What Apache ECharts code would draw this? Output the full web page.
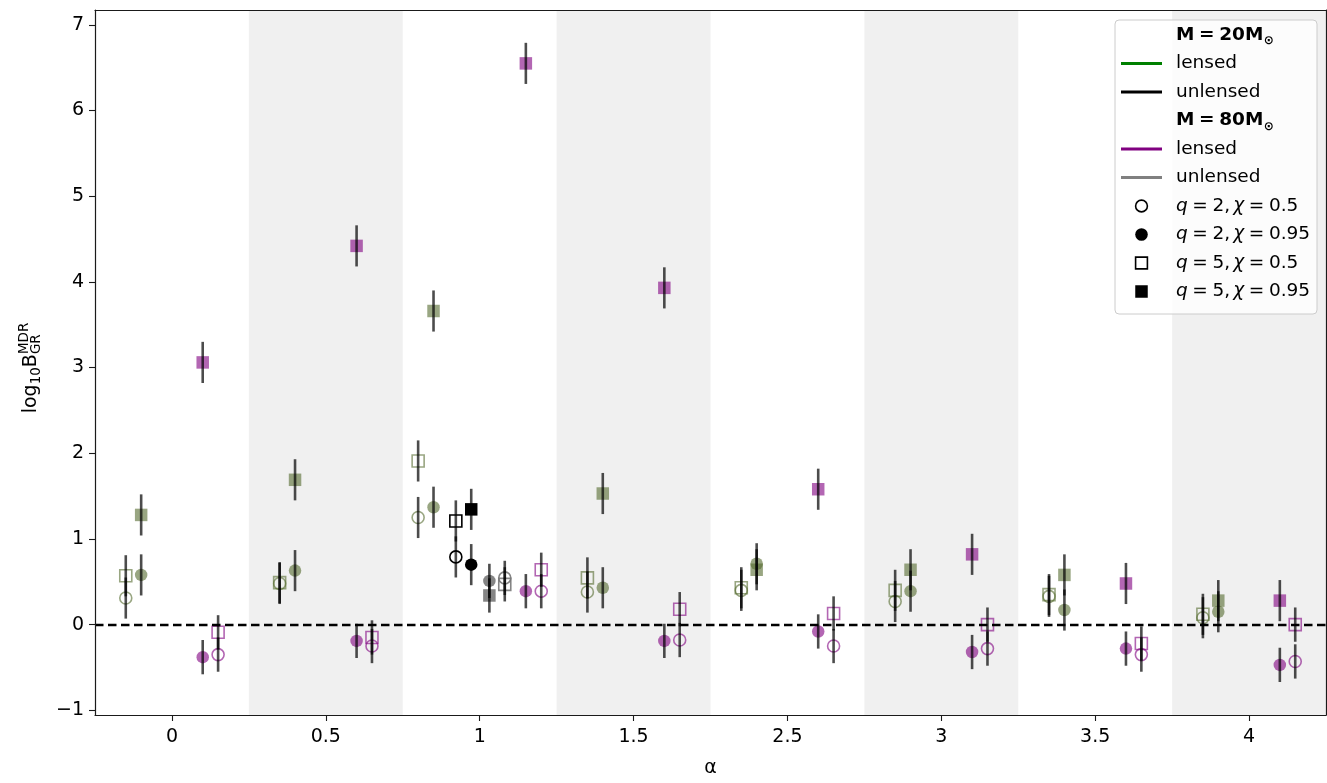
<!DOCTYPE html>
<html><head><meta charset="utf-8">
<script src="https://cdn.jsdelivr.net/npm/echarts@6/dist/echarts.min.js"></script>
<style>html,body{margin:0;padding:0;background:#fff}#c{width:1327px;height:783px}</style>
</head><body><div id="c"></div>
<script>
// ---------------- data ----------------
const alphaLabels = ['0', '0.5', '1', '1.5', '2.5', '3', '3.5', '4'];
const yTicks = [-1, 0, 1, 2, 3, 4, 5, 6, 7];

// M = 20 Msun, lensed (one value per alpha)
const m20Lensed_q2_c05  = [0.31, 0.48, 1.25, 0.38, 0.40, 0.27, 0.33, 0.08];
const m20Lensed_q2_c095 = [0.58, 0.63, 1.37, 0.43, 0.71, 0.39, 0.17, 0.15];
const m20Lensed_q5_c05  = [0.57, 0.49, 1.91, 0.545, 0.43, 0.40, 0.35, 0.12];
const m20Lensed_q5_c095 = [1.28, 1.69, 3.66, 1.53, 0.64, 0.64, 0.58, 0.28];
// M = 20 Msun, unlensed (only alpha = 1)
const m20Unlensed_q2_c05  = [null, null, 0.79, null, null, null, null, null];
const m20Unlensed_q2_c095 = [null, null, 0.70, null, null, null, null, null];
const m20Unlensed_q5_c05  = [null, null, 1.21, null, null, null, null, null];
const m20Unlensed_q5_c095 = [null, null, 1.345, null, null, null, null, null];
// M = 80 Msun, unlensed (only alpha = 1)
const m80Unlensed_q2_c05  = [null, null, 0.545, null, null, null, null, null];
const m80Unlensed_q2_c095 = [null, null, 0.51, null, null, null, null, null];
const m80Unlensed_q5_c05  = [null, null, 0.47, null, null, null, null, null];
const m80Unlensed_q5_c095 = [null, null, 0.34, null, null, null, null, null];
// M = 80 Msun, lensed
const m80Lensed_q2_c05  = [-0.35, -0.25, 0.39, -0.18, -0.25, -0.28, -0.35, -0.43];
const m80Lensed_q2_c095 = [-0.38, -0.19, 0.39, -0.19, -0.08, -0.32, -0.28, -0.47];
const m80Lensed_q5_c05  = [-0.09, -0.15, 0.64, 0.18, 0.13, 0.00, -0.22, 0.00];
const m80Lensed_q5_c095 = [3.06, 4.42, 6.55, 3.93, 1.58, 0.82, 0.48, 0.28];

// half-widths of the error bars
const errM20 = 0.24;
const errM80 = 0.20;
const errM80_q5_c095 = 0.24;

// ---------------- layout / style ----------------
const FONT = '"DejaVu Sans", Verdana, sans-serif';
const OFFSETS = {
  m20l: { open: i => i === 2 ? -0.4 : -0.3, filled: i => i === 2 ? -0.3 : -0.2 },
  m20u: { open: () => -0.155, filled: () => -0.055 },
  m80u: { open: () => 0.163, filled: () => 0.063 },
  m80l: { open: i => i === 2 ? 0.4 : 0.3, filled: i => i === 2 ? 0.3 : 0.2 }
};
const GROUPS = [
  { key: 'm20l', color: 'rgba(85,107,47,0.6)', err: [errM20, errM20, errM20, errM20],
    vals: [m20Lensed_q2_c05, m20Lensed_q2_c095, m20Lensed_q5_c05, m20Lensed_q5_c095] },
  { key: 'm20u', color: '#000000', err: [errM20, errM20, errM20, errM20],
    vals: [m20Unlensed_q2_c05, m20Unlensed_q2_c095, m20Unlensed_q5_c05, m20Unlensed_q5_c095] },
  { key: 'm80u', color: 'rgba(120,120,120,0.9)', err: [errM80, errM80, errM80, errM80],
    vals: [m80Unlensed_q2_c05, m80Unlensed_q2_c095, m80Unlensed_q5_c05, m80Unlensed_q5_c095] },
  { key: 'm80l', color: 'rgba(128,0,128,0.6)', err: [errM80, errM80, errM80, errM80_q5_c095],
    vals: [m80Lensed_q2_c05, m80Lensed_q2_c095, m80Lensed_q5_c05, m80Lensed_q5_c095] }
];
// marker kinds in the order of vals
const KINDS = [
  { symbol: 'circle', filled: false, size: 12 },
  { symbol: 'circle', filled: true, size: 12.5 },
  { symbol: 'rect', filled: false, size: 12 },
  { symbol: 'rect', filled: true, size: 12.5 }
];

const series = [];
// shaded bands
const bands = [];
for (let i = 1; i < alphaLabels.length; i += 2) bands.push([{ xAxis: i - 0.5 }, { xAxis: i + 0.5 }]);
series.push({
  type: 'scatter', data: [], silent: true, z: 0,
  markArea: { silent: true, itemStyle: { color: '#f0f0f0' }, data: bands, label: { show: false } }
});
// zero line
series.push({
  type: 'scatter', data: [], silent: true, z: 1,
  markLine: {
    silent: true, symbol: ['none', 'none'], label: { show: false },
    lineStyle: { color: '#000', width: 2.4, type: [8.5, 4.5] },
    emphasis: { disabled: true },
    data: [{ yAxis: 0 }]
  }
});

GROUPS.forEach(g => {
  KINDS.forEach((k, ki) => {
    const off = k.filled ? OFFSETS[g.key].filled : OFFSETS[g.key].open;
    const pts = [], errs = [];
    g.vals[ki].forEach((v, i) => {
      if (v === null) return;
      pts.push([i + off(i), v]);
      errs.push([i + off(i), v, g.err[ki]]);
    });
    series.push({
      type: 'scatter', data: pts, symbol: k.symbol, symbolSize: k.size, z: 2,
      itemStyle: k.filled
        ? { color: g.color, borderWidth: 0, opacity: 1 }
        : { color: 'rgba(0,0,0,0)', borderColor: g.color, borderWidth: 1.6, opacity: 1 },
      emphasis: { disabled: true }, silent: true
    });
    series.push({
      type: 'custom', data: errs, z: 3, silent: true,
      encode: { x: 0, y: 1 },
      renderItem: (params, api) => {
        const x = api.value(0), y = api.value(1), e = api.value(2);
        const p1 = api.coord([x, y - e]), p2 = api.coord([x, y + e]);
        return { type: 'line', shape: { x1: p1[0], y1: p1[1], x2: p2[0], y2: p2[1] },
          style: { stroke: 'rgba(0,0,0,0.7)', lineWidth: 2.6 } };
      }
    });
  });
});

// ---------------- text helpers ----------------
const mctx = document.createElement('canvas').getContext('2d');
function tw(font, s) { mctx.font = font; return mctx.measureText(s).width; }
const REL = '\u2005';   // relation spacing (math mode)
const THIN = '\u2006';  // thin space after comma (math mode)

// ---------------- legend (graphic) ----------------
const LF = 18.5;
const legX = 1115, legY = 20, legW = 202, legH = 294;
const rowY = k => 35 + 28.5 * k;
const handleX1 = 1121, handleX2 = 1162, handleCX = 1141.5, textX = 1176;
const legendItems = [
  { kind: 'header', text: 'M' + REL + '=' + REL + '20M' },
  { kind: 'line', color: '#008000', text: 'lensed' },
  { kind: 'line', color: '#000000', text: 'unlensed' },
  { kind: 'header', text: 'M' + REL + '=' + REL + '80M' },
  { kind: 'line', color: '#800080', text: 'lensed' },
  { kind: 'line', color: '#808080', text: 'unlensed' },
  { kind: 'marker', symbol: 'circle', filled: false, q: '2', chi: '0.5' },
  { kind: 'marker', symbol: 'circle', filled: true, q: '2', chi: '0.95' },
  { kind: 'marker', symbol: 'rect', filled: false, q: '5', chi: '0.5' },
  { kind: 'marker', symbol: 'rect', filled: true, q: '5', chi: '0.95' }
];
const graphics = [];
graphics.push({ type: 'rect', z: 100, shape: { x: legX, y: legY, width: legW, height: legH, r: 4 },
  style: { fill: 'rgba(255,255,255,0.8)', stroke: '#cccccc', lineWidth: 1 } });
legendItems.forEach((it, k) => {
  const y = rowY(k);
  if (it.kind === 'header') {
    const w = tw('bold ' + LF + 'px ' + FONT, it.text);
    graphics.push({ type: 'text', z: 101, x: textX, y: y,
      style: { text: it.text, font: 'bold ' + LF + 'px ' + FONT, fill: '#000', verticalAlign: 'middle', align: 'left' } });
    graphics.push({ type: 'text', z: 101, x: textX + w + 0.5, y: y + 6,
      style: { text: '\u2299', font: 'bold 12px ' + FONT, fill: '#000', verticalAlign: 'middle', align: 'left' } });
  } else if (it.kind === 'line') {
    graphics.push({ type: 'line', z: 101, shape: { x1: handleX1, y1: y, x2: handleX2, y2: y },
      style: { stroke: it.color, lineWidth: 2.8 } });
    graphics.push({ type: 'text', z: 101, x: textX, y: y,
      style: { text: it.text, font: LF + 'px ' + FONT, fill: '#000', verticalAlign: 'middle', align: 'left' } });
  } else {
    const st = it.filled ? { fill: '#000', lineWidth: 0 } : { fill: 'none', stroke: '#000', lineWidth: 1.6 };
    if (it.symbol === 'circle') {
      graphics.push({ type: 'circle', z: 101, shape: { cx: handleCX, cy: y, r: it.filled ? 6.3 : 5.9 }, style: st });
    } else {
      const s = it.filled ? 12.5 : 11.8;
      graphics.push({ type: 'rect', z: 101, shape: { x: handleCX - s / 2, y: y - s / 2, width: s, height: s }, style: st });
    }
    graphics.push({ type: 'text', z: 101, x: textX, y: y,
      style: { text: '{i|q}' + REL + '=' + REL + it.q + ',' + THIN + '{i|\u03c7}' + REL + '=' + REL + it.chi,
        font: LF + 'px ' + FONT, fill: '#000',
        verticalAlign: 'middle', align: 'left',
        rich: { i: { fontStyle: 'italic', fontSize: LF, fontFamily: FONT, fill: '#000' } } } });
  }
});

// ---------------- y-axis label (rotated) ----------------
const YF = 19, YS = 13.5;
const parts = [
  { t: 'log', f: YF, dy: 0 },
  { t: '10', f: YS, dy: 5 },
  { t: 'B', f: YF, dy: 0 }
];
let wMain = 0;
parts.forEach(p => { p.w = tw(p.f + 'px ' + FONT, p.t); wMain += p.w; });
const wSup = tw(YS + 'px ' + FONT, 'MDR'), wSub = tw(YS + 'px ' + FONT, 'GR');
const totalW = wMain + Math.max(wSup, wSub);
let cx = -totalW / 2;
const yChildren = [];
parts.forEach(p => {
  yChildren.push({ type: 'text', x: cx, y: p.dy, style: { text: p.t, font: p.f + 'px ' + FONT, fill: '#000', align: 'left', verticalAlign: 'middle' } });
  cx += p.w;
});
yChildren.push({ type: 'text', x: cx, y: -7, style: { text: 'MDR', font: YS + 'px ' + FONT, fill: '#000', align: 'left', verticalAlign: 'middle' } });
yChildren.push({ type: 'text', x: cx, y: 5, style: { text: 'GR', font: YS + 'px ' + FONT, fill: '#000', align: 'left', verticalAlign: 'middle' } });
graphics.push({ type: 'group', x: 31, y: 368, rotation: Math.PI / 2, children: yChildren, z: 50 });

// ---------------- chart ----------------
const xTickVals = alphaLabels.map((_, i) => i);
const axisLineStyle = { color: '#1a1a1a', width: 1.2 };
const chart = echarts.init(document.getElementById('c'), null, { renderer: 'canvas' });
chart.setOption({
  animation: false,
  backgroundColor: '#ffffff',
  grid: { left: 95, right: 1, top: 10, bottom: 60.5, containLabel: false },
  xAxis: [{
    type: 'value', min: -0.5, max: alphaLabels.length - 0.5, position: 'bottom', z: 10,
    axisLine: { show: true, onZero: false, lineStyle: axisLineStyle },
    axisTick: { show: true, customValues: xTickVals, length: 6, lineStyle: { color: '#1a1a1a', width: 1.1 } },
    axisLabel: { customValues: xTickVals, formatter: v => alphaLabels[Math.round(v)], color: '#000',
      fontSize: 19, fontFamily: FONT, margin: 13 },
    splitLine: { show: false },
    name: '\u03b1', nameLocation: 'middle', nameGap: 44,
    nameTextStyle: { color: '#000', fontSize: 19, fontFamily: FONT }
  }, {
    type: 'value', min: -0.5, max: alphaLabels.length - 0.5, position: 'top', z: 10,
    axisLine: { show: true, onZero: false, lineStyle: axisLineStyle },
    axisTick: { show: false }, axisLabel: { show: false }, splitLine: { show: false }
  }],
  yAxis: [{
    type: 'value', min: -1.055, max: 7.173, position: 'left', z: 10,
    axisLine: { show: true, onZero: false, lineStyle: axisLineStyle },
    axisTick: { show: true, customValues: yTicks, length: 6, lineStyle: { color: '#1a1a1a', width: 1.1 } },
    axisLabel: { customValues: yTicks, formatter: v => v < 0 ? '\u2212' + (-v) : String(v), color: '#000',
      fontSize: 19, fontFamily: FONT, margin: 11 },
    splitLine: { show: false }
  }, {
    type: 'value', min: -1.055, max: 7.173, position: 'right', z: 10,
    axisLine: { show: true, onZero: false, lineStyle: axisLineStyle },
    axisTick: { show: false }, axisLabel: { show: false }, splitLine: { show: false }
  }],
  series: series,
  graphic: graphics
});
</script>
</body></html>
